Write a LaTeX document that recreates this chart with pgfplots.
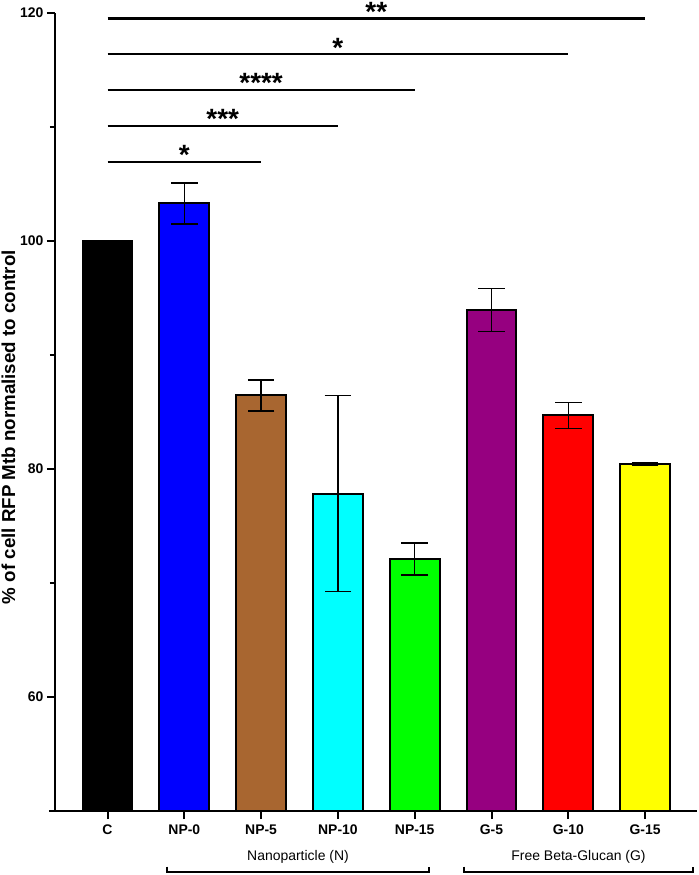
\documentclass[border=0pt]{standalone}
\usepackage{pgfplots}
\pgfplotsset{compat=1.18}
\usepackage{fontspec}
\setmainfont{Liberation Sans}
\definecolor{npbrown}{RGB}{168,102,48}
\definecolor{gpurple}{RGB}{150,0,128}
\definecolor{mycyan}{RGB}{0,255,255}
\definecolor{mygreen}{RGB}{0,255,0}
\definecolor{myblue}{RGB}{0,0,255}
\definecolor{myred}{RGB}{255,0,0}
\definecolor{myyellow}{RGB}{255,255,0}
\pgfplotsset{
  mybar/.style={ybar, bar width=0.65, bar shift=0pt, draw=black, line width=2bp, fill=#1,
    error bars/.cd, y dir=both, y explicit,
    error bar style={line width=1.5bp, black},
    error mark options={rotate=90, line width=1.5bp, mark size=13.3bp, black}},
  sig/.style={black, line width=2.4bp, no marks},
}
\begin{document}
\begin{tikzpicture}
\useasboundingbox (-55bp,-64bp) rectangle (644bp,811bp);
\begin{axis}[
 at={(0,0)}, anchor=south west,
 scale only axis, width=642bp, height=798bp,
 xmin=-0.684, xmax=7.676, ymin=50, ymax=120,
 axis lines=left, axis line style={line width=2.3bp, -},
 axis on top,
 clip mode=individual,
 tick align=outside,
 major tick length=8bp, minor tick length=5bp,
 tick style={black, line width=2bp},
 xtick={0,...,7}, xticklabels={C,NP-0,NP-5,NP-10,NP-15,G-5,G-10,G-15},
 ytick={60,80,100,120}, minor ytick={70,90,110},
 tick label style={font=\fontsize{14}{16}\selectfont\bfseries},
 xticklabel style={yshift=-2bp},
 /pgf/number format/assume math mode=true,
 ylabel={\% of cell RFP Mtb normalised to control},
 ylabel style={font=\fontsize{18.8}{22}\selectfont\bfseries, at={(axis description cs:-0.0727,0.481)}, anchor=center},
]
\addplot[mybar=black] coordinates {(0,100)};
\addplot[mybar=myblue] coordinates {(1,103.3) +- (0,1.8)};
\addplot[mybar=npbrown] coordinates {(2,86.45) +- (0,1.35)};
\addplot[mybar=mycyan] coordinates {(3,77.85) +- (0,8.6)};
\addplot[mybar=mygreen] coordinates {(4,72.1) +- (0,1.4)};
\addplot[mybar=gpurple] coordinates {(5,93.95) +- (0,1.87)};
\addplot[mybar=myred] coordinates {(6,84.7) +- (0,1.15)};
\addplot[mybar=myyellow] coordinates {(7,80.45) +- (0,0.08)};
% significance lines
\addplot[sig] coordinates {(0,106.95) (2,106.95)};
\addplot[sig] coordinates {(0,110.1) (3,110.1)};
\addplot[sig] coordinates {(0,113.25) (4,113.25)};
\addplot[sig] coordinates {(0,116.4) (6,116.4)};
\addplot[sig] coordinates {(0,119.5) (7,119.5)};
\tikzset{star/.style={font=\fontsize{28}{28}\selectfont\bfseries, anchor=base, yshift=-3bp}}
\node[star] at (axis cs:1,106.95) {*};
\node[star] at (axis cs:1.5,110.1) {***};
\node[star] at (axis cs:2,113.25) {****};
\node[star] at (axis cs:3,116.4) {*};
\node[star] at (axis cs:3.5,119.5) {**};
\end{axis}
\draw[line width=2.3bp] (-6bp,0) -- (0,0);
\draw[line width=2bp] (112bp,-55.7bp) -- (112bp,-60.7bp) -- (374bp,-60.7bp) -- (374bp,-55.7bp);
\draw[line width=2bp] (409bp,-55.7bp) -- (409bp,-60.7bp) -- (638bp,-60.7bp) -- (638bp,-55.7bp);
\node[font=\fontsize{14}{16}\selectfont] at (243bp,-45.7bp) {Nanoparticle (N)};
\node[font=\fontsize{14}{16}\selectfont] at (523.5bp,-45.7bp) {Free Beta-Glucan (G)};
\end{tikzpicture}
\end{document}
